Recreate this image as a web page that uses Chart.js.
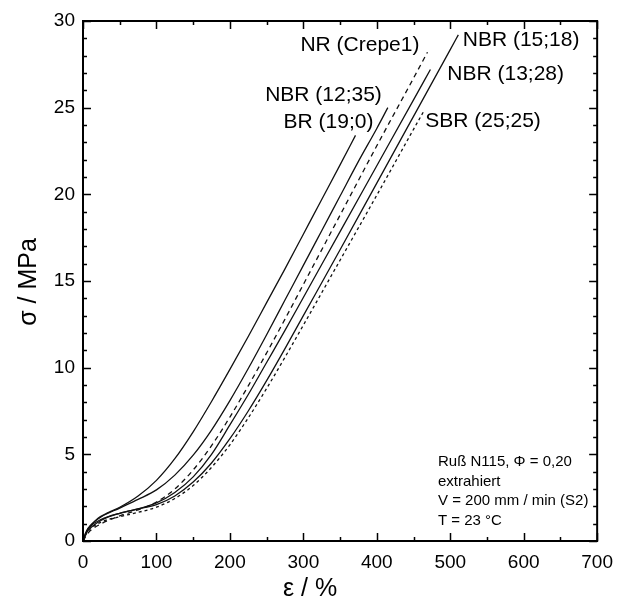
<!DOCTYPE html>
<html>
<head>
<meta charset="utf-8">
<script src="https://cdn.jsdelivr.net/npm/chart.js@4.4.1/dist/chart.umd.min.js"></script>
<style>
  html, body { margin: 0; padding: 0; background: #fff; }
  #wrap { width: 623px; height: 605px; }
</style>
</head>
<body>
<div id="wrap"><canvas id="chart" width="623" height="605"></canvas></div>
<script>
  // strain (%) / stress (MPa)
  const strainBR = [0, 5, 10, 20, 35, 50, 75, 100, 125, 150, 175, 200, 225, 250, 275, 300, 325, 350, 371];
  const stressBR = [0, 0.55, 0.85, 1.3, 1.65, 1.95, 2.6, 3.5, 4.75, 6.3, 8.05, 9.9, 11.8, 13.75, 15.7, 17.7, 19.7, 21.7, 23.4];

  const strainNBR1235 = [0, 5, 10, 25, 50, 75, 100, 125, 150, 175, 200, 225, 250, 275, 300, 325, 350, 375, 400, 415];
  const stressNBR1235 = [0, 0.6, 0.9, 1.4, 1.9, 2.4, 2.95, 3.8, 4.95, 6.4, 8.1, 9.95, 11.9, 13.9, 15.9, 17.9, 19.9, 21.9, 23.8, 25.0];

  const strainNR = [0, 5, 10, 25, 50, 75, 100, 125, 150, 175, 200, 225, 250, 275, 300, 350, 400, 450, 469];
  const stressNR = [0, 0.35, 0.6, 1.0, 1.45, 1.8, 2.25, 3.0, 4.1, 5.5, 7.15, 8.95, 10.85, 12.8, 14.8, 18.8, 22.8, 26.7, 28.2];

  const strainNBR1328 = [0, 5, 10, 25, 50, 75, 100, 125, 150, 175, 200, 225, 250, 275, 300, 350, 400, 450, 473];
  const stressNBR1328 = [0, 0.5, 0.75, 1.2, 1.6, 1.85, 2.2, 2.8, 3.7, 5.0, 6.7, 8.45, 10.3, 12.15, 14.05, 17.85, 21.65, 25.45, 27.2];

  const strainNBR1518 = [0, 5, 10, 25, 50, 75, 100, 125, 150, 175, 200, 225, 250, 275, 300, 350, 400, 450, 500, 511];
  const stressNBR1518 = [0, 0.55, 0.85, 1.25, 1.6, 1.85, 2.1, 2.6, 3.4, 4.5, 5.9, 7.5, 9.25, 11.1, 13.0, 16.8, 20.65, 24.5, 28.35, 29.2];

  const strainSBR = [0, 5, 10, 25, 50, 75, 100, 125, 150, 175, 200, 225, 250, 275, 300, 350, 400, 450, 464];
  const stressSBR = [0, 0.45, 0.7, 1.1, 1.4, 1.65, 1.95, 2.45, 3.2, 4.25, 5.55, 7.1, 8.8, 10.6, 12.45, 16.2, 19.95, 23.75, 24.8];

  const xTicksMajor = [0, 100, 200, 300, 400, 500, 600, 700];
  const xTicksMinor = [50, 150, 250, 350, 450, 550, 650];
  const yTicksMajor = [0, 5, 10, 15, 20, 25, 30];
  const yTicksMinor = [1, 2, 3, 4, 6, 7, 8, 9, 11, 12, 13, 14, 16, 17, 18, 19, 21, 22, 23, 24, 26, 27, 28, 29];

  // curve labels: [text, strain, stress] for the left / middle anchor
  const curveLabels = [
    ["NR (Crepe1)", 296, 28.6],
    ["NBR (15;18)", 517, 28.9],
    ["NBR (13;28)", 496, 26.95],
    ["NBR (12;35)", 248, 25.7],
    ["BR (19;0)", 273, 24.15],
    ["SBR (25;25)", 466, 24.2]
  ];

  const noteLines = [
    "Ruß N115, Φ = 0,20",
    "extrahiert",
    "V = 200 mm / min (S2)",
    "T = 23 °C"
  ];

  const FONT = "'Liberation Sans', Arial, sans-serif";

  function toPoints(xs, ys) {
    return xs.map((x, i) => ({ x, y: ys[i] }));
  }

  function curve(label, xs, ys, dash) {
    return {
      label,
      data: toPoints(xs, ys),
      showLine: true,
      borderColor: "#111",
      borderWidth: 1.3,
      borderDash: dash,
      pointRadius: 0,
      cubicInterpolationMode: "monotone",
      fill: false
    };
  }

  const framePlugin = {
    id: "frame",
    afterDraw(chart) {
      const { ctx, chartArea: a, scales } = chart;
      const xs = scales.x, ys = scales.y;
      ctx.save();
      ctx.strokeStyle = "#000";
      ctx.lineWidth = 2;
      ctx.strokeRect(a.left, a.top, a.right - a.left, a.bottom - a.top);

      ctx.lineWidth = 1.5;
      ctx.beginPath();
      const tickX = (vals, len) => vals.forEach((v) => {
        const px = Math.round(xs.getPixelForValue(v)) + 0.5;
        ctx.moveTo(px, a.bottom); ctx.lineTo(px, a.bottom - len);
        ctx.moveTo(px, a.top); ctx.lineTo(px, a.top + len);
      });
      const tickY = (vals, len) => vals.forEach((v) => {
        const py = Math.round(ys.getPixelForValue(v)) + 0.5;
        ctx.moveTo(a.left, py); ctx.lineTo(a.left + len, py);
        ctx.moveTo(a.right, py); ctx.lineTo(a.right - len, py);
      });
      tickX(xTicksMajor, 8);
      tickX(xTicksMinor, 4);
      tickY(yTicksMajor, 8);
      tickY(yTicksMinor, 4);
      ctx.stroke();

      // axis titles
      ctx.fillStyle = "#000";
      ctx.font = "25px " + FONT;
      ctx.textAlign = "center";
      ctx.textBaseline = "middle";
      ctx.save();
      ctx.translate(29, 282);
      ctx.rotate(-Math.PI / 2);
      ctx.fillText("σ / MPa", 0, 0);
      ctx.restore();
      ctx.fillText("ε / %", 310, 589);

      // curve labels
      ctx.font = "21px " + FONT;
      ctx.textAlign = "left";
      curveLabels.forEach(([t, x, y]) => {
        ctx.fillText(t, xs.getPixelForValue(x), ys.getPixelForValue(y));
      });

      // note
      ctx.font = "15px " + FONT;
      noteLines.forEach((t, i) => {
        ctx.fillText(t, 438, 462 + i * 19.5);
      });
      ctx.restore();
    }
  };

  new Chart(document.getElementById("chart"), {
    type: "scatter",
    data: {
      datasets: [
        curve("BR (19;0)", strainBR, stressBR, []),
        curve("NBR (12;35)", strainNBR1235, stressNBR1235, []),
        curve("NR (Crepe1)", strainNR, stressNR, [5, 4]),
        curve("NBR (13;28)", strainNBR1328, stressNBR1328, []),
        curve("NBR (15;18)", strainNBR1518, stressNBR1518, []),
        curve("SBR (25;25)", strainSBR, stressSBR, [3, 3])
      ]
    },
    options: {
      responsive: false,
      animation: false,
      layout: { padding: { top: 21, right: 19, left: 0, bottom: 0 } },
      plugins: { legend: { display: false }, tooltip: { enabled: false } },
      scales: {
        x: {
          type: "linear",
          min: 0,
          max: 700,
          afterFit(scale) { scale.height = 64; },
          afterBuildTicks(scale) { scale.ticks = xTicksMajor.map((v) => ({ value: v })); },
          grid: { display: false, drawTicks: false },
          border: { display: false },
          ticks: { color: "#000", font: { family: FONT, size: 19 }, padding: 10, maxRotation: 0 }
        },
        y: {
          type: "linear",
          min: 0,
          max: 30,
          afterFit(scale) { scale.width = 83; },
          afterBuildTicks(scale) { scale.ticks = yTicksMajor.map((v) => ({ value: v })); },
          grid: { display: false, drawTicks: false },
          border: { display: false },
          ticks: { color: "#000", font: { family: FONT, size: 19 }, padding: 8 }
        }
      }
    },
    plugins: [framePlugin]
  });
</script>
</body>
</html>
